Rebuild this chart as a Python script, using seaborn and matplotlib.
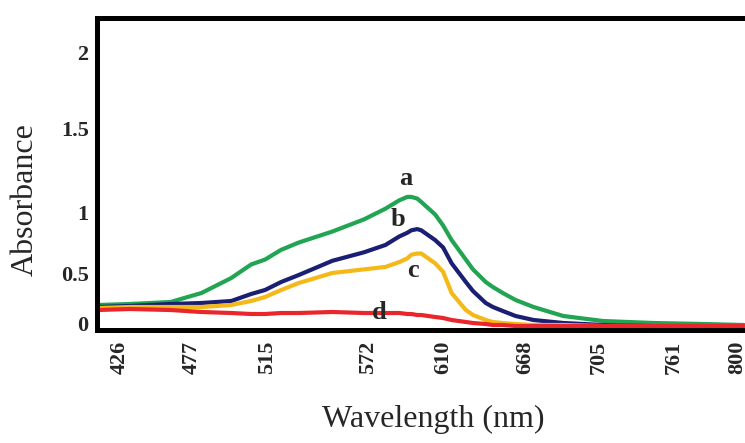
import numpy as np
import pandas as pd
import matplotlib
matplotlib.use("Agg")
import matplotlib.pyplot as plt
import seaborn as sns

# spectra
wavelength = [410, 433, 462, 482, 497, 507, 514, 523, 533, 552, 570, 581, 588, 592, 594, 597,
              599, 606, 610, 616, 626, 631, 640, 645, 652, 661, 672, 687, 708, 746, 779, 804]
abs_a = [0.18, 0.19, 0.21, 0.30, 0.45, 0.57, 0.61, 0.69, 0.75, 0.84, 0.94, 1.02, 1.07, 1.09, 1.09, 1.08,
         1.06, 0.98, 0.89, 0.77, 0.61, 0.53, 0.41, 0.36, 0.30, 0.23, 0.16, 0.07, 0.02, 0.0, -0.01, -0.02]
abs_b = [0.16, 0.17, 0.19, 0.20, 0.22, 0.29, 0.33, 0.41, 0.48, 0.60, 0.67, 0.73, 0.80, 0.83, 0.85, 0.86,
         0.85, 0.77, 0.71, 0.58, 0.41, 0.32, 0.20, 0.16, 0.12, 0.07, 0.03, 0.0, -0.02, -0.03, -0.03, -0.03]
abs_c = [0.15, 0.16, 0.16, 0.16, 0.18, 0.22, 0.26, 0.33, 0.40, 0.50, 0.53, 0.55, 0.59, 0.62, 0.65, 0.66,
         0.66, 0.58, 0.51, 0.30, 0.13, 0.08, 0.03, 0.01, 0.0, -0.01, -0.02, -0.02, -0.03, -0.03, -0.03, -0.03]
abs_d = [0.13, 0.14, 0.13, 0.11, 0.10, 0.09, 0.09, 0.10, 0.10, 0.11, 0.10, 0.10, 0.10, 0.09, 0.09, 0.08,
         0.08, 0.06, 0.05, 0.03, 0.01, 0.0, -0.01, -0.02, -0.02, -0.03, -0.03, -0.03, -0.03, -0.03, -0.03, -0.03]

samples = ["a", "b", "c", "d"]
colors = {"a": "#22a552", "b": "#1b1f74", "c": "#f4b919", "d": "#e8262b"}

# the original axis is not linear: tick values and where they sit
x_ticks = [426, 477, 515, 572, 610, 668, 705, 761, 800]
x_tick_pos = [120, 191, 266, 366, 441, 523, 596, 670, 733]
y_ticks = [0, 0.5, 1, 1.5, 2]
y_tick_pos = [7, 57, 118, 202, 278]

# curve labels (letter, x, y)
label_pos = [("a", 591, 1.20), ("b", 587.5, 0.94), ("c", 595, 0.52), ("d", 578, 0.11)]

df = pd.DataFrame({
    "Wavelength": wavelength * 4,
    "Absorbance": abs_a + abs_b + abs_c + abs_d,
    "sample": sum([[s] * len(wavelength) for s in samples], []),
})

sns.set_style("white")
plt.rcParams["font.family"] = ["Liberation Serif", "DejaVu Serif"]

xa = np.array([300] + x_ticks + [900], float)
xp = np.array([120 - 126 * 1.393] + x_tick_pos + [733 + 100 * 1.8], float)
ya = np.array([-1] + y_ticks + [3], float)
yp = np.array([7 - 100] + y_tick_pos + [278 + 152], float)

fig = plt.figure(figsize=(7.45, 4.43), dpi=100)
ax = fig.add_axes([97 / 745, 1 - 330 / 443, 1 - 97 / 745, 312 / 443])
ax.set_xscale("function", functions=(lambda v: np.interp(v, xa, xp), lambda v: np.interp(v, xp, xa)))
ax.set_yscale("function", functions=(lambda v: np.interp(v, ya, yp), lambda v: np.interp(v, yp, ya)))

sns.lineplot(data=df, x="Wavelength", y="Absorbance", hue="sample", palette=colors,
             linewidth=3, legend=False, ax=ax, sort=False)

ax.set_xlim(409.5, 804.5)
ax.set_ylim(-0.07, 2.224)
ax.set_xticks(x_ticks)
ax.set_xticklabels([str(t) for t in x_ticks], rotation=90, fontweight="bold", fontsize=16)
ax.set_yticks(y_ticks)
ax.set_yticklabels(["0", "0.5", "1", "1.5", "2"], fontweight="bold", fontsize=16)
ax.minorticks_off()
ax.tick_params(length=0, axis="x", pad=8)
ax.tick_params(length=0, axis="y", pad=6)

for s in ["left", "top", "bottom"]:
    ax.spines[s].set_linewidth(3.6)
    ax.spines[s].set_color("black")
ax.spines["right"].set_visible(False)

ax.set_xlabel("Wavelength (nm)", fontsize=23, va="center")
ax.set_ylabel("Absorbance", fontsize=23, va="center")
ax.xaxis.set_label_coords(0.519, -0.288)
ax.yaxis.set_label_coords(-0.111, 0.5 + (330 - 200 - 156) / 312)

for name, lx, ly in label_pos:
    ax.text(lx, ly, name, fontsize=19, fontweight="bold", ha="center", va="center")

fig.savefig("out.png", dpi=100)
